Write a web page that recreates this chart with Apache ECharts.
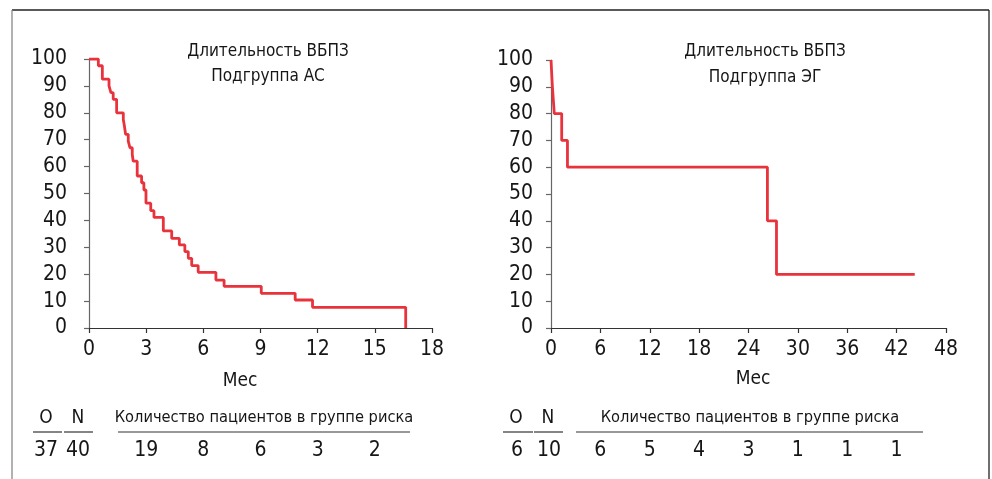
<!DOCTYPE html>
<html><head><meta charset="utf-8">
<script src="https://cdn.jsdelivr.net/npm/echarts@6/dist/echarts.min.js"></script>
<style>html,body{margin:0;padding:0;background:#fff}#c{width:992px;height:479px}</style>
</head><body><div id="c"></div>
<script>
// ---- data ----
const timesAC = [0, 0.49, 0.70, 1.05, 1.15, 1.27, 1.45, 1.80, 1.86, 1.92, 2.06, 2.15, 2.27, 2.32, 2.53, 2.76, 2.88, 2.99, 3.24, 3.41, 3.90, 4.34, 4.74, 5.03, 5.21, 5.39, 5.73, 6.66, 7.09, 9.04, 10.82, 11.73, 16.62];
const survAC  = [100, 97.5, 92.5, 90, 87.5, 85, 80, 77.5, 75, 72, 69.5, 67, 64.5, 62, 56.5, 54, 51.3, 46.4, 43.6, 41.1, 36.1, 33.3, 30.9, 28.4, 25.9, 23.2, 20.7, 17.8, 15.5, 12.9, 10.4, 7.7, 0];
const timesEG = [0, 0.17, 0.4, 1.3, 2.0, 26.3, 27.4, 44.2];
const survEG  = [100, 90, 80, 70, 60, 40, 20, 20];
const riskTimesAC = [3, 6, 9, 12, 15];
const riskAC = [19, 8, 6, 3, 2];
const riskTimesEG = [6, 12, 18, 24, 30, 36, 42];
const riskEG = [6, 5, 4, 3, 1, 1, 1];
const onAC = ['37', '40'];
const onEG = ['6', '10'];
const titleAC = ['Длительность ВБПЗ', 'Подгруппа АС'];
const titleEG = ['Длительность ВБПЗ', 'Подгруппа ЭГ'];
const riskHeader = 'Количество пациентов в группе риска';
const xName = 'Мес';

const FONT = '"Liberation Sans Narrow","DejaVu Sans Condensed","Roboto Condensed",Roboto,sans-serif';
const TXT = '#161616';
const RED = '#E8323C';

const chart = echarts.init(document.getElementById('c'), null, {renderer: 'canvas'});

function yAx(gi, margin) {
  return {type: 'value', gridIndex: gi, min: 0, max: 100, interval: 10,
    axisLine: {show: true, lineStyle: {color: '#666', width: 1.2}},
    axisTick: {show: true, length: 5, lineStyle: {color: '#666', width: 1.2}},
    splitLine: {show: false},
    axisLabel: {fontFamily: FONT, fontSize: 21, color: TXT, margin: margin}};
}
function xAx(gi, max, interval) {
  return {type: 'value', gridIndex: gi, min: 0, max: max, interval: interval,
    axisLine: {show: true, onZero: false, lineStyle: {color: '#333', width: 1.2}},
    axisTick: {show: true, length: 5, lineStyle: {color: '#333', width: 1.2}},
    splitLine: {show: false},
    axisLabel: {fontFamily: FONT, fontSize: 21, color: TXT, margin: 11}};
}
function txt(x, y, s, size, align) {
  return {type: 'text', x: x, y: y, style: {text: s, fontFamily: FONT, fontSize: size, fill: TXT,
    textAlign: align || 'center', textVerticalAlign: 'middle'}};
}
function ln(x1, y1, x2, y2, color, w) {
  return {type: 'line', shape: {x1: x1, y1: y1, x2: x2, y2: y2}, style: {stroke: color || '#333', lineWidth: w || 1.2}};
}

const option = {
  animation: false,
  grid: [
    {left: 89, top: 59, width: 343, height: 269},
    {left: 551, top: 60, width: 395, height: 268}
  ],
  xAxis: [xAx(0, 18, 3), xAx(1, 48, 6)],
  yAxis: [yAx(0, 22), yAx(1, 18)],
  series: [
    {type: 'line', xAxisIndex: 0, yAxisIndex: 0, step: 'end', symbol: 'none',
      lineStyle: {color: RED, width: 2.8}, data: timesAC.map((t, i) => [t, survAC[i]])},
    {type: 'line', xAxisIndex: 1, yAxisIndex: 1, step: 'end', symbol: 'none',
      lineStyle: {color: RED, width: 2.8}, data: timesEG.map((t, i) => [t, survEG[i]])}
  ]
};
chart.setOption(option);

// risk table numbers, positioned through the library's x axes
const RISK_Y = 451;
const riskGraphics = [];
riskTimesAC.forEach((t, i) => {
  const px = chart.convertToPixel({xAxisIndex: 0}, t);
  riskGraphics.push(txt(px, RISK_Y, String(riskAC[i]), 21));
});
riskTimesEG.forEach((t, i) => {
  const px = chart.convertToPixel({xAxisIndex: 1}, t);
  riskGraphics.push(txt(px, RISK_Y, String(riskEG[i]), 21));
});

chart.setOption({
  graphic: [
    ln(12, 10, 989, 10, '#222', 1.3),
    ln(12, 10, 12, 479, '#888', 1.3),
    ln(989, 10, 989, 479, '#222', 1.3),
    txt(268, 52, titleAC[0], 17), txt(268, 77, titleAC[1], 17),
    txt(765, 52, titleEG[0], 17), txt(765, 78, titleEG[1], 17),
    txt(240, 381, xName, 19), txt(753, 379, xName, 19),
    // left table
    txt(46, 418, 'O', 19), txt(78, 418, 'N', 19),
    ln(33, 432, 62, 432), ln(64, 432, 93, 432), ln(118, 432, 410, 432),
    txt(264, 418, riskHeader, 16.3),
    txt(46, RISK_Y, onAC[0], 21), txt(78, RISK_Y, onAC[1], 21),
    // right table
    txt(516, 418, 'O', 19), txt(548, 418, 'N', 19),
    ln(503, 432, 533, 432), ln(534, 432, 563, 432), ln(576, 432, 923, 432),
    txt(750, 418, riskHeader, 16.3),
    txt(517, RISK_Y, onEG[0], 21), txt(549, RISK_Y, onEG[1], 21)
  ].concat(riskGraphics)
});
</script></body></html>
